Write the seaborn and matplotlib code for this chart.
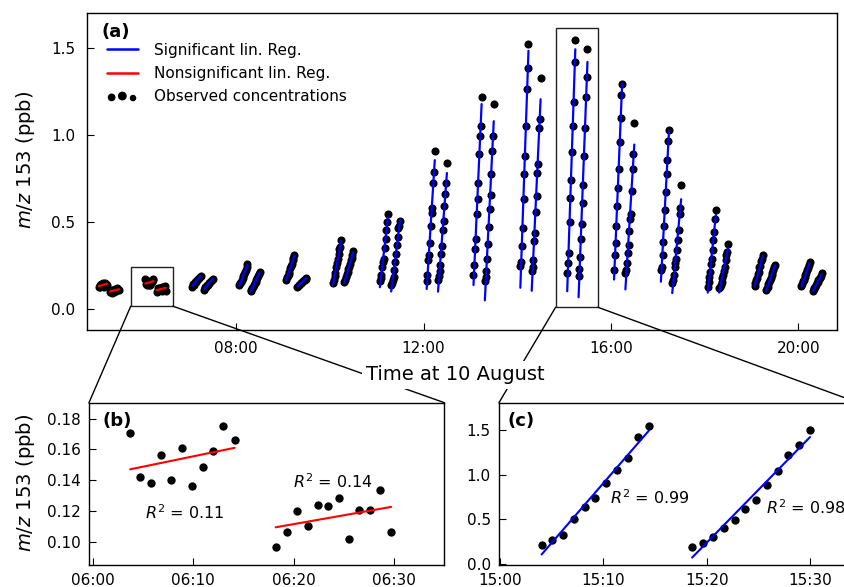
import numpy as np
import pandas as pd
import matplotlib
matplotlib.use("Agg")
import matplotlib.pyplot as plt
from matplotlib.lines import Line2D
from matplotlib.patches import Rectangle, ConnectionPatch
import seaborn as sns

# ---------------- data ----------------
# sampling minutes within the hour (generic chamber closures)
t_first = [4.0, 5.05, 6.1, 7.15, 8.2, 9.2, 10.25, 11.3, 12.35, 13.35, 14.4]
t_second = [18.55, 19.6, 20.65, 21.65, 22.7, 23.7, 24.8, 25.8, 26.85, 27.85, 28.9, 29.95]

# panel (b): 06:00 hour
tb_first = [3.7, 4.7, 5.8, 6.8, 7.8, 8.9, 9.9, 11.0, 12.0, 13.0, 14.1]
tb_second = [18.2, 19.3, 20.3, 21.4, 22.4, 23.4, 24.5, 25.5, 26.5, 27.6, 28.6, 29.7]
h06_1 = [0.1707, 0.1422, 0.1383, 0.1567, 0.1402, 0.1609, 0.1363, 0.1489, 0.1589, 0.1754, 0.1663]
h06_2 = [0.0967, 0.1067, 0.1202, 0.1104, 0.1239, 0.1230, 0.1287, 0.1022, 0.1209, 0.1204, 0.1337, 0.1063]

# panel (c): 15:00 hour
tc_first = [4.02, 5.05, 6.12, 7.15, 8.18, 9.2, 10.23, 11.3, 12.33, 13.36, 14.39]
tc_second = [18.57, 19.6, 20.63, 21.66, 22.69, 23.72, 24.78, 25.81, 26.84, 27.87, 28.9, 29.96]
h15_1 = [0.207, 0.267, 0.323, 0.500, 0.639, 0.741, 0.902, 1.056, 1.192, 1.421, 1.549]
h15_2 = [0.192, 0.233, 0.301, 0.406, 0.489, 0.613, 0.714, 0.880, 1.041, 1.222, 1.335, 1.496]

h05_1 = [0.125, 0.14, 0.13, 0.145, 0.135, 0.15, 0.13, 0.14, 0.15, 0.145, 0.14]
h05_2 = [0.10, 0.11, 0.095, 0.105, 0.11, 0.10, 0.115, 0.105, 0.12, 0.11, 0.115, 0.11]
h07_1 = [0.13, 0.145, 0.14, 0.155, 0.16, 0.158, 0.168, 0.175, 0.178, 0.185, 0.19]
h07_2 = [0.112, 0.12, 0.125, 0.13, 0.138, 0.14, 0.148, 0.152, 0.158, 0.162, 0.168, 0.172]
h08_1 = [0.14, 0.15, 0.155, 0.17, 0.18, 0.19, 0.205, 0.215, 0.225, 0.245, 0.262]
h08_2 = [0.105, 0.112, 0.12, 0.13, 0.14, 0.15, 0.158, 0.17, 0.18, 0.19, 0.2, 0.215]
h09_1 = [0.17, 0.185, 0.19, 0.205, 0.215, 0.235, 0.25, 0.262, 0.28, 0.295, 0.31]
h09_2 = [0.13, 0.135, 0.138, 0.145, 0.148, 0.152, 0.157, 0.16, 0.165, 0.17, 0.175, 0.18]
h10_1 = [0.15, 0.165, 0.19, 0.21, 0.24, 0.265, 0.29, 0.32, 0.345, 0.36, 0.40]
h10_2 = [0.155, 0.17, 0.185, 0.2, 0.215, 0.23, 0.245, 0.26, 0.28, 0.295, 0.31, 0.335]
h11_1 = [0.161, 0.18, 0.195, 0.243, 0.27, 0.291, 0.349, 0.406, 0.454, 0.502, 0.549]
h11_2 = [0.14, 0.148, 0.17, 0.186, 0.224, 0.272, 0.32, 0.368, 0.416, 0.464, 0.48, 0.507]
h12_1 = [0.163, 0.195, 0.282, 0.310, 0.378, 0.477, 0.554, 0.579, 0.726, 0.789, 0.908]
h12_2 = [0.17, 0.190, 0.220, 0.253, 0.316, 0.362, 0.458, 0.506, 0.592, 0.665, 0.728, 0.841]
h13_1 = [0.195, 0.253, 0.345, 0.401, 0.546, 0.636, 0.726, 0.895, 0.994, 1.054, 1.220]
h13_2 = [0.16, 0.186, 0.220, 0.286, 0.372, 0.470, 0.575, 0.659, 0.776, 0.908, 0.998, 1.178]
h14_1 = [0.247, 0.272, 0.362, 0.467, 0.632, 0.776, 0.881, 1.052, 1.268, 1.387, 1.523]
h14_2 = [0.22, 0.243, 0.282, 0.391, 0.438, 0.559, 0.651, 0.784, 0.837, 1.044, 1.096, 1.332]
h16_1 = [0.228, 0.310, 0.378, 0.477, 0.594, 0.699, 0.808, 0.962, 1.102, 1.230, 1.297]
h16_2 = [0.21, 0.228, 0.266, 0.324, 0.368, 0.45, 0.517, 0.550, 0.678, 0.808, 0.891, 1.071]
h17_1 = [0.224, 0.243, 0.310, 0.387, 0.479, 0.573, 0.674, 0.776, 0.860, 0.966, 1.029]
h17_2 = [0.148, 0.165, 0.195, 0.240, 0.265, 0.291, 0.339, 0.40, 0.458, 0.550, 0.579, 0.716]
h18_1 = [0.13, 0.157, 0.182, 0.214, 0.259, 0.291, 0.339, 0.40, 0.444, 0.521, 0.573]
h18_2 = [0.12, 0.128, 0.14, 0.157, 0.18, 0.195, 0.22, 0.243, 0.282, 0.31, 0.33, 0.372]
h19_1 = [0.135, 0.148, 0.17, 0.178, 0.205, 0.212, 0.24, 0.248, 0.275, 0.288, 0.31]
h19_2 = [0.108, 0.12, 0.13, 0.145, 0.155, 0.17, 0.18, 0.198, 0.21, 0.225, 0.24, 0.255]
h20_1 = [0.135, 0.145, 0.16, 0.17, 0.185, 0.195, 0.21, 0.225, 0.238, 0.252, 0.27]
h20_2 = [0.105, 0.115, 0.12, 0.128, 0.14, 0.148, 0.155, 0.165, 0.172, 0.18, 0.19, 0.21]

hours = [5, 6, 7, 8, 9, 10, 11, 12, 13, 14, 15, 16, 17, 18, 19, 20]
significant_hours = [7, 8, 9, 10, 11, 12, 13, 14, 15, 16, 17, 18, 19, 20]

series = {
    5: (h05_1, h05_2), 6: (h06_1, h06_2), 7: (h07_1, h07_2), 8: (h08_1, h08_2),
    9: (h09_1, h09_2), 10: (h10_1, h10_2), 11: (h11_1, h11_2), 12: (h12_1, h12_2),
    13: (h13_1, h13_2), 14: (h14_1, h14_2), 15: (h15_1, h15_2), 16: (h16_1, h16_2),
    17: (h17_1, h17_2), 18: (h18_1, h18_2), 19: (h19_1, h19_2), 20: (h20_1, h20_2),
}
times = {6: (tb_first, tb_second), 15: (tc_first, tc_second)}

r2_b = ["$R^2$ = 0.11", "$R^2$ = 0.14"]
r2_c = ["$R^2$ = 0.99", "$R^2$ = 0.98"]

# ---------------- style ----------------
sns.set_style("white")
plt.rcParams.update({
    "font.family": ["DejaVu Sans"],
    "font.size": 11,
    "text.color": "black",
    "axes.labelcolor": "black",
    "axes.edgecolor": "black",
    "axes.linewidth": 1.0,
    "xtick.direction": "in",
    "ytick.direction": "in",
    "xtick.major.size": 5,
    "ytick.major.size": 5,
    "xtick.bottom": True,
    "ytick.left": True,
    "xtick.color": "black",
    "ytick.color": "black",
    "xtick.labelcolor": "black",
    "ytick.labelcolor": "black",
    "xtick.labelsize": 11,
    "ytick.labelsize": 11,
})

BLUE = "#0000ff"
RED = "#ff0000"

fig = plt.figure(figsize=(8.45, 5.87), dpi=100)
ax = fig.add_axes([0.1026, 0.4378, 0.8876, 0.5406])
axb = fig.add_axes([0.1053, 0.0375, 0.4205, 0.2765])
axc = fig.add_axes([0.5905, 0.0375, 0.4249, 0.2765])

# ---------------- main panel ----------------
rows = []
for h in hours:
    tf, ts = times.get(h, (t_first, t_second))
    for k, (tt, yy) in enumerate(zip((tf, ts), series[h])):
        for t, y in zip(tt, yy):
            rows.append({"hour": h, "closure": k, "t": h + t / 60.0, "c": y})
df = pd.DataFrame(rows)

sns.scatterplot(data=df, x="t", y="c", color="black", s=34, linewidth=0,
                ax=ax, zorder=2, legend=False)
for (h, k), g in df.groupby(["hour", "closure"]):
    col = BLUE if h in significant_hours else RED
    sns.regplot(data=g, x="t", y="c", scatter=False, ci=None, ax=ax,
                color=col, line_kws={"lw": 1.6, "zorder": 3})

ax.set_xlim(4.81, 20.82)
ax.set_ylim(-0.12, 1.705)
ax.set_xticks([8, 12, 16, 20])
ax.set_xticklabels(["08:00", "12:00", "16:00", "20:00"])
ax.set_yticks([0.0, 0.5, 1.0, 1.5])
ax.set_yticklabels(["0.0", "0.5", "1.0", "1.5"])
ax.set_xlabel("")
ax.set_ylabel("")
ax.tick_params(axis="x", pad=8)
ax.tick_params(axis="y", pad=8)
ax.text(0.02, 0.94, "(a)", transform=ax.transAxes, fontsize=13,
        fontweight="bold", ha="left", va="center")

# zoom boxes
box_b = (5.75, 0.017, 0.90, 0.223)
box_c = (14.82, 0.011, 0.90, 1.604)
for (x0, y0, w, hgt) in (box_b, box_c):
    ax.add_patch(Rectangle((x0, y0), w, hgt, fill=False, ec="#222222", lw=1.0, zorder=4))

# legend
h_sig = Line2D([], [], color=BLUE, lw=1.8)
h_non = Line2D([], [], color=RED, lw=1.8)
h_obs = ax.scatter([np.nan, np.nan], [np.nan, np.nan], s=[22, 40],
                   color="black", linewidths=0)
ax.legend([h_sig, h_non, h_obs],
          ["Significant lin. Reg.", "Nonsignificant lin. Reg.", "Observed concentrations"],
          loc="upper left", bbox_to_anchor=(0.019, 0.925), borderaxespad=0,
          frameon=False, fontsize=11, scatterpoints=3, handlelength=2.0,
          handletextpad=1.1, labelspacing=0.55)

# ---------------- panel (b) ----------------
dfb = pd.DataFrame({"t": tb_first + tb_second,
                    "c": h06_1 + h06_2,
                    "closure": [0] * len(tb_first) + [1] * len(tb_second)})
sns.scatterplot(data=dfb, x="t", y="c", color="black", s=36, linewidth=0,
                ax=axb, zorder=2, legend=False)
for k, g in dfb.groupby("closure"):
    sns.regplot(data=g, x="t", y="c", scatter=False, ci=None, ax=axb,
                color=RED, line_kws={"lw": 1.5, "zorder": 3})
axb.set_xlim(-0.4, 35.0)
axb.set_ylim(0.085, 0.1904)
axb.set_xticks([0, 10, 20, 30])
axb.set_xticklabels(["06:00", "06:10", "06:20", "06:30"])
axb.set_yticks([0.10, 0.12, 0.14, 0.16, 0.18])
axb.set_yticklabels(["0.10", "0.12", "0.14", "0.16", "0.18"])
axb.set_xlabel("")
axb.set_ylabel("")
axb.tick_params(axis="both", pad=6)
axb.text(0.039, 0.887, "(b)", transform=axb.transAxes, fontsize=13,
         fontweight="bold", ha="left", va="center")
axb.text(5.16, 0.1188, r2_b[0], fontsize=11.5, ha="left", va="center")
axb.text(19.9, 0.139, r2_b[1], fontsize=11.5, ha="left", va="center")

# ---------------- panel (c) ----------------
dfc = pd.DataFrame({"t": tc_first + tc_second,
                    "c": h15_1 + h15_2,
                    "closure": [0] * len(tc_first) + [1] * len(tc_second)})
sns.scatterplot(data=dfc, x="t", y="c", color="black", s=36, linewidth=0,
                ax=axc, zorder=2, legend=False)
for k, g in dfc.groupby("closure"):
    sns.regplot(data=g, x="t", y="c", scatter=False, ci=None, ax=axc,
                color=BLUE, line_kws={"lw": 1.5, "zorder": 3})
axc.set_xlim(-0.1, 34.6)
axc.set_ylim(-0.015, 1.808)
axc.set_xticks([0, 10, 20, 30])
axc.set_xticklabels(["15:00", "15:10", "15:20", "15:30"])
axc.set_yticks([0.0, 0.5, 1.0, 1.5])
axc.set_yticklabels(["0.0", "0.5", "1.0", "1.5"])
axc.set_xlabel("")
axc.set_ylabel("")
axc.tick_params(axis="both", pad=6)
axc.text(0.025, 0.887, "(c)", transform=axc.transAxes, fontsize=13,
         fontweight="bold", ha="left", va="center")
axc.text(10.6, 0.737, r2_c[0], fontsize=11.5, ha="left", va="center")
axc.text(25.7, 0.624, r2_c[1], fontsize=11.5, ha="left", va="center")

# ---------------- connectors ----------------
conns = [
    ((box_b[0], box_b[1]), axb, (0, 1)),
    ((box_b[0] + box_b[2], box_b[1]), axb, (1, 1)),
    ((box_c[0], box_c[1]), axc, (0, 1)),
    ((box_c[0] + box_c[2], box_c[1]), axc, (1, 1)),
]
for xyA, axB, xyB in conns:
    cp = ConnectionPatch(xyA=xyA, coordsA=ax.transData, xyB=xyB,
                         coordsB=axB.transAxes, color="black", lw=1.0, zorder=1)
    fig.add_artist(cp)

# axis labels
fig.text(455 / 845, 1 - 375 / 587, "Time at 10 August", fontsize=14,
         ha="center", va="center", zorder=10,
         bbox=dict(fc="white", ec="none", pad=3))
fig.text(0.030, 1 - 160 / 587, "$m/z$ 153 (ppb)", fontsize=14, rotation=90,
         ha="center", va="center")
fig.text(0.030, 1 - 483 / 587, "$m/z$ 153 (ppb)", fontsize=14, rotation=90,
         ha="center", va="center")

fig.savefig("out.png", dpi=100)
